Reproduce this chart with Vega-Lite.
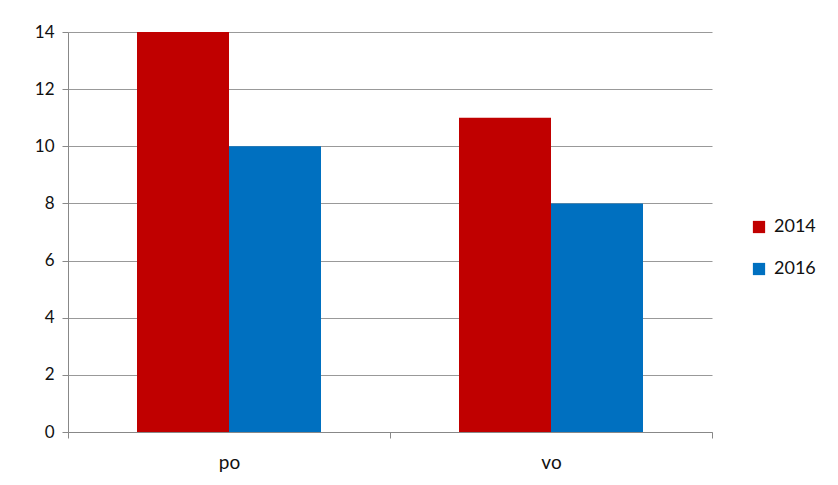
{
  "$schema": "https://vega.github.io/schema/vega-lite/v6.json",
  "width": 644,
  "height": 400,
  "autosize": {"type": "none"},
  "padding": {"left": 68, "top": 32, "right": 126, "bottom": 53},
  "background": "white",
  "data": {
    "values": [
      {"category": "po", "year": "2014", "value": 14},
      {"category": "po", "year": "2016", "value": 10},
      {"category": "vo", "year": "2014", "value": 11},
      {"category": "vo", "year": "2016", "value": 8}
    ]
  },
  "mark": {"type": "bar"},
  "encoding": {
    "x": {
      "field": "category",
      "type": "nominal",
      "scale": {"paddingInner": 0, "paddingOuter": 0},
      "axis": {
        "title": null,
        "labelAngle": 0,
        "tickBand": "extent",
        "labelFont": "Lato",
        "labelFontSize": 19,
        "labelColor": "#111111",
        "labelPadding": 15,
        "domainColor": "#888888",
        "tickColor": "#888888",
        "tickSize": 6,
        "grid": false
      }
    },
    "xOffset": {
      "field": "year",
      "type": "nominal",
      "scale": {"paddingInner": 0, "paddingOuter": 0.75}
    },
    "y": {
      "field": "value",
      "type": "quantitative",
      "scale": {"domain": [0, 14]},
      "axis": {
        "title": null,
        "values": [0, 2, 4, 6, 8, 10, 12, 14],
        "labelFont": "Lato",
        "labelFontSize": 17,
        "labelColor": "#111111",
        "labelPadding": 8,
        "domainColor": "#888888",
        "tickColor": "#888888",
        "tickSize": 6,
        "gridColor": "#999999",
        "gridWidth": 1
      }
    },
    "color": {
      "field": "year",
      "type": "nominal",
      "scale": {"domain": ["2014", "2016"], "range": ["#C00000", "#0070C0"]},
      "legend": {
        "title": null,
        "orient": "none",
        "legendX": 682,
        "legendY": 186,
        "symbolType": "square",
        "symbolSize": 150,
        "symbolStrokeWidth": 0,
        "labelFont": "Lato",
        "labelFontSize": 18,
        "labelColor": "#111111",
        "rowPadding": 24,
        "labelOffset": 6
      }
    }
  },
  "config": {"view": {"stroke": null}}
}
